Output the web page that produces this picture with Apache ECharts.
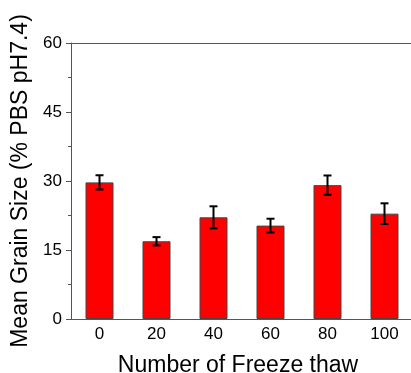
<!DOCTYPE html>
<html>
<head>
<meta charset="utf-8">
<script src="https://cdn.jsdelivr.net/npm/echarts@6/dist/echarts.min.js"></script>
<style>
  html, body { margin: 0; padding: 0; background: #fff; }
  #chart { width: 411px; height: 373px; }
</style>
</head>
<body>
<div id="chart"></div>
<script>
// freeze-thaw cycles vs mean grain size
const cycles = ['0', '20', '40', '60', '80', '100'];
const meanSize = [29.7, 16.9, 22.1, 20.3, 29.1, 22.9];
const errSize = [1.55, 0.9, 2.4, 1.5, 2.1, 2.25];
const yTicks = [0, 15, 30, 45, 60];

const FONT = 'Liberation Sans, Arial, sans-serif';
const AXIS_COLOR = '#555';

const chart = echarts.init(document.getElementById('chart'));

function renderErr(params, api) {
  const i = api.value(0);
  const hi = api.coord([i, api.value(2)]);
  const lo = api.coord([i, api.value(1)]);
  const cap = 4;
  const style = { stroke: '#000', lineWidth: 2 };
  return {
    type: 'group',
    children: [
      { type: 'line', shape: { x1: hi[0], y1: hi[1], x2: lo[0], y2: lo[1] }, style },
      { type: 'line', shape: { x1: hi[0] - cap, y1: hi[1], x2: hi[0] + cap, y2: hi[1] }, style },
      { type: 'line', shape: { x1: lo[0] - cap, y1: lo[1], x2: lo[0] + cap, y2: lo[1] }, style }
    ]
  };
}

const option = {
  animation: false,
  grid: {
    left: 71, top: 43, width: 342, bottom: 54,
    outerBoundsMode: 'none',
    containLabel: false
  },
  xAxis: [
    {
      type: 'category',
      data: cycles,
      name: 'Number of Freeze thaw',
      nameLocation: 'middle',
      nameGap: 35,
      nameTextStyle: { fontFamily: FONT, fontSize: 23, color: '#000', padding: [0, 8, 0, 0] },
      axisLine: { lineStyle: { color: AXIS_COLOR, width: 1 } },
      axisTick: { alignWithLabel: true, length: 4, lineStyle: { color: AXIS_COLOR } },
      axisLabel: { fontFamily: FONT, fontSize: 17, color: '#000', margin: 7 }
    },
    {
      type: 'category',
      data: cycles,
      position: 'bottom',
      axisLine: { show: false },
      axisTick: { length: 4, lineStyle: { color: AXIS_COLOR } },
      axisLabel: { show: false }
    },
    {
      type: 'category',
      data: cycles,
      position: 'top',
      axisLine: { show: true, lineStyle: { color: AXIS_COLOR, width: 1 } },
      axisTick: { show: false },
      axisLabel: { show: false }
    }
  ],
  yAxis: {
    type: 'value',
    min: 0, max: 60, interval: 15,
    name: 'Mean Grain Size (% PBS pH7.4)',
    nameLocation: 'middle',
    nameGap: 35,
    nameTextStyle: { fontFamily: FONT, fontSize: 23, color: '#000' },
    axisLine: { show: true, lineStyle: { color: AXIS_COLOR, width: 1 } },
    axisTick: { show: true, length: 5, lineStyle: { color: AXIS_COLOR } },
    minorTick: { show: true, splitNumber: 2, length: 3, lineStyle: { color: AXIS_COLOR } },
    splitLine: { show: false },
    axisLabel: {
      fontFamily: FONT, fontSize: 17, color: '#000', margin: 9,
      formatter: v => (yTicks.includes(v) ? String(v) : '')
    }
  },
  series: [
    {
      type: 'bar',
      data: meanSize,
      barWidth: 28,
      itemStyle: { color: '#ff0000', borderColor: '#444', borderWidth: 1 }
    },
    {
      type: 'custom',
      renderItem: renderErr,
      data: meanSize.map((v, i) => [i, v - errSize[i], v + errSize[i]]),
      z: 10
    }
  ]
};

chart.setOption(option);
</script>
</body>
</html>
